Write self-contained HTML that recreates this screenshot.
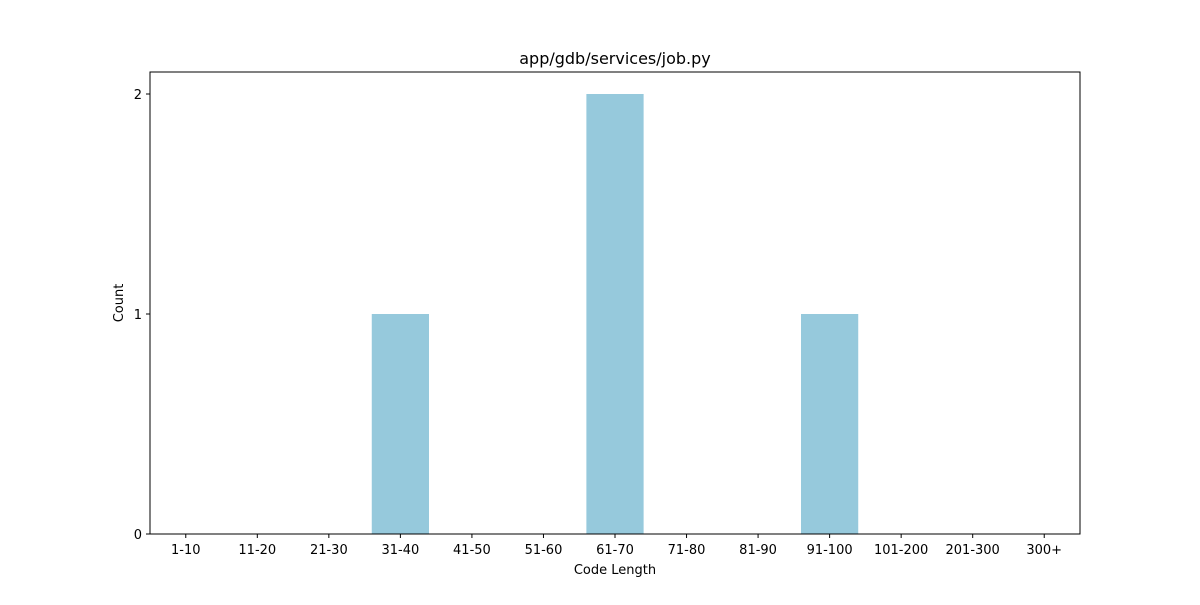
<!DOCTYPE html>
<html><head><meta charset="utf-8"><style>
body{margin:0;background:#fff;font-family:"Liberation Sans","DejaVu Sans",sans-serif;}
svg text{font-family:"DejaVu Sans","Liberation Sans",sans-serif;}
</style></head><body>
<svg id="chart" width="1200" height="600">
<text x="615" y="64" text-anchor="middle" font-size="16">app/gdb/services/job.py</text>
<g id="bars"></g>
<g id="xticks"></g>
<g id="yticks"></g>
<rect x="150" y="72" width="930" height="462" fill="none" stroke="#000" stroke-width="1"/>
<text x="615" y="574" text-anchor="middle" font-size="13">Code Length</text>
<text transform="translate(123,303) rotate(-90)" text-anchor="middle" font-size="13">Count</text>
</svg>
<script>
const categories=["1-10","11-20","21-30","31-40","41-50","51-60","61-70","71-80","81-90","91-100","101-200","201-300","300+"];
const counts=[0,0,0,1,0,0,2,0,0,1,0,0,0];
const yTicks=[0,1,2];
const L=150,R=1080,T=72,B=534,yMax=2.1;
const ns="http://www.w3.org/2000/svg";
const step=(R-L)/categories.length;
const xs=i=>L+(i+0.5)*step;
const ys=v=>B-(v/yMax)*(B-T);
function mk(t,a,p){const e=document.createElementNS(ns,t);for(const k in a)e.setAttribute(k,a[k]);p.appendChild(e);return e;}
const gb=document.getElementById('bars'),gx=document.getElementById('xticks'),gy=document.getElementById('yticks');
categories.forEach((c,i)=>{
 const w=step*0.8;
 const r=mk('rect',{x:xs(i)-w/2,y:ys(counts[i]),width:w,height:B-ys(counts[i]),fill:'#96c9dc'},gb);
 
 
 mk('line',{x1:xs(i),x2:xs(i),y1:B,y2:B+4,stroke:'#000'},gx);
 const t=mk('text',{x:xs(i),y:B+20,'text-anchor':'middle','font-size':'13'},gx);
 t.textContent=c;
 
 
});
yTicks.forEach(v=>{
 mk('line',{x1:L-4,x2:L,y1:ys(v),y2:ys(v),stroke:'#000'},gy);
 const t=mk('text',{x:L-8,y:ys(v)+5,'text-anchor':'end','font-size':'13'},gy);
 t.textContent=v;
 
 
});
</script>
</body></html>
